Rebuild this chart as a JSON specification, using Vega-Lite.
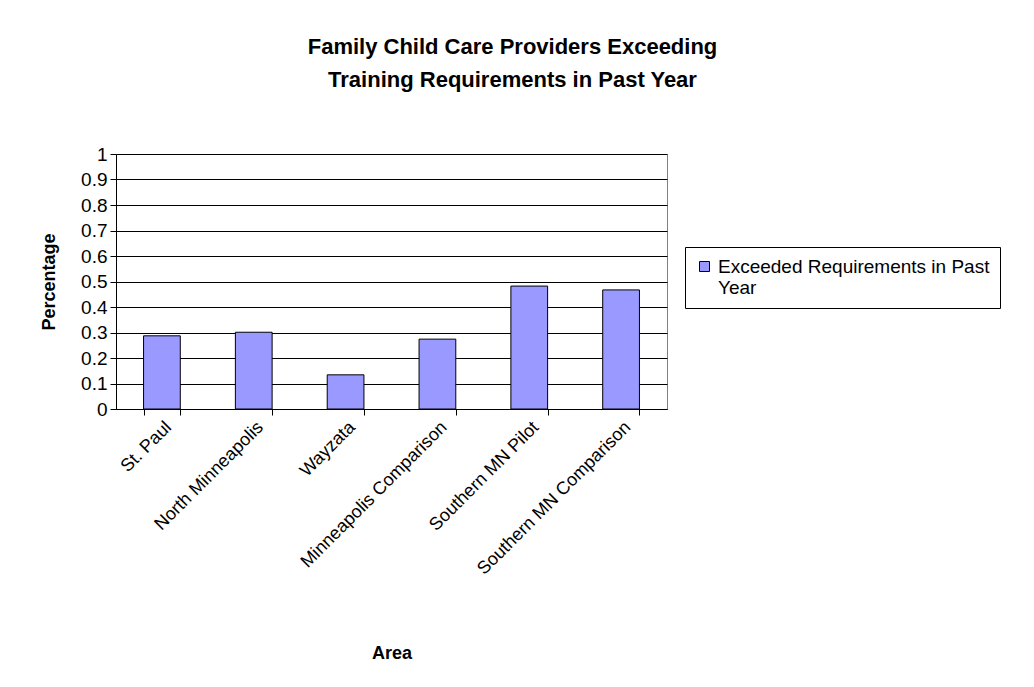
{
  "$schema": "https://vega.github.io/schema/vega-lite/v6.json",
  "width": 551,
  "height": 255,
  "autosize": {"type": "none"},
  "padding": {"left": 116, "top": 154, "right": 367, "bottom": 278},
  "background": "white",
  "config": {
    "font": "Liberation Sans",
    "view": {"stroke": "#808080", "strokeWidth": 1},
    "axis": {"labelColor": "black", "titleColor": "black", "domainColor": "black", "tickColor": "black"}
  },
  "title": {
    "text": ["Family Child Care Providers Exceeding", "Training Requirements in Past Year"],
    "fontSize": 22,
    "fontWeight": "bold",
    "color": "black",
    "lineHeight": 33,
    "anchor": "middle",
    "dx": 121,
    "offset": 53
  },
  "data": {
    "values": [
      {"Area": "St. Paul", "Percentage": 0.287, "Series": "Exceeded Requirements in Past Year"},
      {"Area": "North Minneapolis", "Percentage": 0.301, "Series": "Exceeded Requirements in Past Year"},
      {"Area": "Wayzata", "Percentage": 0.134, "Series": "Exceeded Requirements in Past Year"},
      {"Area": "Minneapolis Comparison", "Percentage": 0.274, "Series": "Exceeded Requirements in Past Year"},
      {"Area": "Southern MN Pilot", "Percentage": 0.482, "Series": "Exceeded Requirements in Past Year"},
      {"Area": "Southern MN Comparison", "Percentage": 0.467, "Series": "Exceeded Requirements in Past Year"}
    ]
  },
  "mark": {"type": "bar", "stroke": "black", "strokeWidth": 1},
  "encoding": {
    "x": {
      "field": "Area",
      "type": "nominal",
      "sort": null,
      "scale": {"paddingInner": 0.6, "paddingOuter": 0.3},
      "axis": {
        "tickBand": "extent",
        "tickSize": 6,
        "labelAngle": -45,
        "labelFontSize": 18,
        "labelPadding": 3,
        "labelLimit": 400,
        "title": "Area",
        "titleFontSize": 18,
        "titleFontWeight": "bold",
        "titlePadding": 67
      }
    },
    "y": {
      "field": "Percentage",
      "type": "quantitative",
      "scale": {"domain": [0, 1], "nice": false},
      "axis": {
        "values": [0, 0.1, 0.2, 0.3, 0.4, 0.5, 0.6, 0.7, 0.8, 0.9, 1],
        "format": "~g",
        "grid": true,
        "gridColor": "black",
        "gridWidth": 1,
        "labelFontSize": 19,
        "tickSize": 6,
        "labelPadding": 3,
        "title": "Percentage",
        "titleFontSize": 18,
        "titleFontWeight": "bold",
        "titlePadding": 22
      }
    },
    "color": {
      "field": "Series",
      "type": "nominal",
      "scale": {"range": ["#9999FF"]},
      "legend": {
        "title": null,
        "orient": "none",
        "legendX": 569,
        "legendY": 93,
        "strokeColor": "black",
        "padding": 10,
        "symbolType": "square",
        "symbolSize": 100,
        "symbolStrokeColor": "black",
        "symbolStrokeWidth": 1,
        "labelFontSize": 19,
        "labelColor": "black",
        "labelLimit": 400,
        "labelExpr": "['Exceeded Requirements in Past', 'Year']"
      }
    }
  }
}
